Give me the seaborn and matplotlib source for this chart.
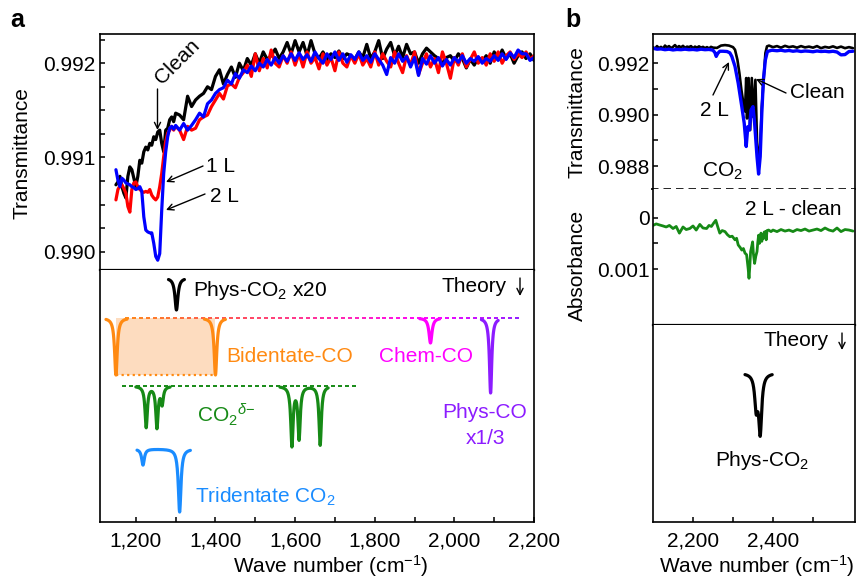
import numpy as np
import pandas as pd
import matplotlib
matplotlib.use("Agg")
import matplotlib.pyplot as plt
import seaborn as sns
from matplotlib.ticker import MultipleLocator, FixedLocator, FuncFormatter, NullLocator
from matplotlib.collections import LineCollection
from matplotlib.colors import LinearSegmentedColormap

# ------------------------------------------------------------------ data
# Panel a, experiment: wave number grid (5 cm-1 steps up to 1300, then 10 cm-1)
wn_a = np.r_[np.arange(1150, 1300, 5), np.arange(1300, 2201, 10)]

clean_a = [
    0.99071, 0.99074, 0.99080, 0.99069, 0.99062, 0.99057, 0.99080, 0.99090, 0.99087, 0.99078,
    0.99069, 0.99080, 0.99097, 0.99094, 0.99106, 0.99111, 0.99108, 0.99115, 0.99113, 0.99122,
    0.99119, 0.99127, 0.99129, 0.99115, 0.99106, 0.99129, 0.99131, 0.99140, 0.99143, 0.99138,
    0.99147,
    0.99145, 0.99140, 0.99165, 0.99154, 0.99161, 0.99165, 0.99168, 0.99175, 0.99172, 0.99186, 0.99193,
    0.99178, 0.99188, 0.99196, 0.99185, 0.99200, 0.99192, 0.99205, 0.99198, 0.99210,
    0.99200, 0.99212, 0.99204, 0.99208, 0.99215, 0.99205, 0.99212, 0.99222, 0.99210, 0.99224,
    0.99212, 0.99222, 0.99208, 0.99224, 0.99210, 0.99205, 0.99212, 0.99204, 0.99210, 0.99206,
    0.99213, 0.99205, 0.99210, 0.99208, 0.99204, 0.99212, 0.99206, 0.99220, 0.99205, 0.99212,
    0.99224, 0.99205, 0.99215, 0.99222, 0.99208, 0.99218, 0.99206, 0.99220, 0.99210, 0.99212,
    0.99200, 0.99210, 0.99216, 0.99212, 0.99208, 0.99205, 0.99200, 0.99206, 0.99208, 0.99202,
    0.99210, 0.99205, 0.99195, 0.99204, 0.99198, 0.99206, 0.99202, 0.99208, 0.99200, 0.99212,
    0.99204, 0.99214, 0.99205, 0.99210, 0.99200, 0.99208, 0.99212, 0.99205, 0.99210, 0.99203,
]
one_l_a = [
    0.99055, 0.99066, 0.99070, 0.99071, 0.99067, 0.99062, 0.99048, 0.99042, 0.99066, 0.99073,
    0.99074, 0.99069, 0.99066, 0.99064, 0.99063, 0.99064, 0.99063, 0.99066, 0.99060, 0.99057,
    0.99055, 0.99058, 0.99069, 0.99083, 0.99101, 0.99117, 0.99126, 0.99129, 0.99133, 0.99129,
    0.99133,
    0.99129, 0.99119, 0.99133, 0.99129, 0.99131, 0.99140, 0.99143, 0.99145, 0.99154, 0.99161, 0.99168,
    0.99162, 0.99176, 0.99178, 0.99174, 0.99185, 0.99190, 0.99198, 0.99186, 0.99210,
    0.99192, 0.99205, 0.99195, 0.99214, 0.99200, 0.99196, 0.99208, 0.99200, 0.99212, 0.99198,
    0.99210, 0.99196, 0.99212, 0.99200, 0.99206, 0.99194, 0.99210, 0.99198, 0.99206, 0.99192,
    0.99212, 0.99200, 0.99196, 0.99208, 0.99200, 0.99210, 0.99198, 0.99205, 0.99196, 0.99212,
    0.99198, 0.99210, 0.99202, 0.99196, 0.99212, 0.99200, 0.99190, 0.99208, 0.99198, 0.99212,
    0.99188, 0.99200, 0.99210, 0.99196, 0.99205, 0.99190, 0.99212, 0.99200, 0.99184, 0.99206,
    0.99198, 0.99210, 0.99196, 0.99204, 0.99212, 0.99200, 0.99206, 0.99198, 0.99210, 0.99202,
    0.99212, 0.99200, 0.99208, 0.99212, 0.99204, 0.99210, 0.99206, 0.99212, 0.99204, 0.99208,
]
two_l_a = [
    0.99087, 0.99076, 0.99069, 0.99078, 0.99076, 0.99073, 0.99072, 0.99071, 0.99069, 0.99068,
    0.99066, 0.99067, 0.99069, 0.99064, 0.99037, 0.99023, 0.99021, 0.99020, 0.99020, 0.99009,
    0.98995, 0.98991, 0.98998, 0.99044, 0.99083, 0.99106, 0.99122, 0.99131, 0.99133, 0.99130,
    0.99134,
    0.99129, 0.99136, 0.99129, 0.99134, 0.99140, 0.99147, 0.99143, 0.99157, 0.99161, 0.99168, 0.99172,
    0.99174, 0.99182, 0.99178, 0.99189, 0.99184, 0.99193, 0.99190, 0.99197, 0.99192,
    0.99200, 0.99196, 0.99204, 0.99198, 0.99206, 0.99200, 0.99208, 0.99202, 0.99210, 0.99203,
    0.99211, 0.99204, 0.99209, 0.99202, 0.99212, 0.99205, 0.99200, 0.99210, 0.99204, 0.99212,
    0.99203, 0.99210, 0.99201, 0.99209, 0.99204, 0.99212, 0.99203, 0.99208, 0.99201, 0.99210,
    0.99204, 0.99198, 0.99188, 0.99206, 0.99200, 0.99210, 0.99202, 0.99207, 0.99196, 0.99206,
    0.99187, 0.99205, 0.99199, 0.99208, 0.99200, 0.99206, 0.99197, 0.99204, 0.99198, 0.99206,
    0.99201, 0.99208, 0.99200, 0.99205, 0.99202, 0.99207, 0.99200, 0.99205, 0.99202, 0.99208,
    0.99203, 0.99210, 0.99204, 0.99211, 0.99206, 0.99214, 0.99210, 0.99210, 0.99203, 0.99206,
]

# Panel b, experiment
wn_b_clean = list(range(2100, 2251, 5)) + [
    2260, 2270, 2280, 2290, 2300, 2305, 2311, 2316, 2321, 2326, 2330, 2333, 2335, 2339,
    2343, 2347, 2351, 2356, 2360, 2364, 2368, 2372, 2376, 2381, 2385, 2390] + list(range(2400, 2601, 10))
clean_b = [
    0.99262, 0.99255, 0.99266, 0.99258, 0.99263, 0.99256, 0.99268, 0.99261, 0.99266, 0.99258,
    0.99263, 0.99270, 0.99260, 0.99266, 0.99261, 0.99267, 0.99259, 0.99264, 0.99262, 0.99266,
    0.99258, 0.99264, 0.99260, 0.99265, 0.99260, 0.99263, 0.99258, 0.99262, 0.99257, 0.99263,
    0.99260,
    0.99259, 0.99268, 0.99270, 0.99268, 0.99262, 0.99252, 0.99213, 0.99161, 0.99096, 0.99044,
    0.99012, 0.99142, 0.98985, 0.99142, 0.98940, 0.99142, 0.98990, 0.99135, 0.98900, 0.98800,
    0.98880, 0.99030, 0.99122, 0.99239, 0.99265, 0.99268,
    0.99262, 0.99266, 0.99260, 0.99267, 0.99262, 0.99265, 0.99260, 0.99266, 0.99261, 0.99264,
    0.99260, 0.99266, 0.99258, 0.99263, 0.99260, 0.99265, 0.99259, 0.99264, 0.99258, 0.99262,
    0.99258,
]
wn_b_2l = list(range(2100, 2251, 10)) + [
    2255, 2258, 2262, 2267, 2275, 2285, 2292, 2297, 2305, 2313, 2322, 2328, 2333, 2337,
    2341, 2345, 2350, 2354, 2360, 2364, 2368, 2372, 2376, 2381, 2386, 2397] + list(range(2410, 2601, 10))
two_l_b = [
    0.99258, 0.99254, 0.99255, 0.99252, 0.99254, 0.99251, 0.99253, 0.99252, 0.99254, 0.99252,
    0.99253, 0.99251, 0.99254, 0.99252, 0.99253, 0.99250,
    0.99240, 0.99226, 0.99238, 0.99246, 0.99246, 0.99245, 0.99240, 0.99226, 0.99187, 0.99122,
    0.99031, 0.98967, 0.98876, 0.98953, 0.98940, 0.99018, 0.99031, 0.98967, 0.98837, 0.98769,
    0.98837, 0.99005, 0.99135, 0.99213, 0.99245, 0.99250,
    0.99248, 0.99250, 0.99247, 0.99249, 0.99246, 0.99248, 0.99245, 0.99247, 0.99246, 0.99244,
    0.99247, 0.99245, 0.99246, 0.99244, 0.99246, 0.99243, 0.99232, 0.99233, 0.99245, 0.99246,
]
wn_b_diff = [
    2100, 2108, 2116, 2125, 2133, 2141, 2150, 2158, 2166, 2175, 2183, 2192, 2200, 2208, 2217,
    2225, 2234, 2240, 2246, 2252, 2257, 2262, 2267, 2273, 2280, 2286, 2292, 2298, 2305, 2309,
    2313, 2318, 2322, 2326, 2330, 2334, 2336, 2338, 2340, 2342, 2344, 2347, 2349, 2351, 2354,
    2357, 2360, 2362, 2364, 2366, 2368, 2370, 2372, 2374, 2376, 2378, 2381, 2383, 2385, 2389,
    2395, 2400, 2410, 2420, 2430, 2440, 2450, 2460, 2470, 2480, 2490, 2500, 2510, 2520, 2530,
    2540, 2550, 2560, 2570, 2580, 2590, 2600]
diff_b = [
    0.00015, 0.00012, 0.00014, 0.00016, 0.00018, 0.00015, 0.00021, 0.00017, 0.00030, 0.00018,
    0.00023, 0.00021, 0.00016, 0.00024, 0.00013, 0.00020, 0.00021, 0.00015, 0.00017, 0.00010,
    0.00005, 0.00018, 0.00030, 0.00025, 0.00027, 0.00033, 0.00037, 0.00036, 0.00043, 0.00040,
    0.00053, 0.00058, 0.00063, 0.00060, 0.00069, 0.00072, 0.00086, 0.00100, 0.00118, 0.00095,
    0.00066, 0.00055, 0.00047, 0.00070, 0.00089, 0.00075, 0.00066, 0.00048, 0.00034, 0.00050,
    0.00043, 0.00030, 0.00046, 0.00035, 0.00040, 0.00028, 0.00027, 0.00043, 0.00025, 0.00024,
    0.00027, 0.00024, 0.00027, 0.00023, 0.00026, 0.00024, 0.00027, 0.00023, 0.00025, 0.00022,
    0.00026, 0.00024, 0.00022, 0.00025, 0.00020, 0.00024, 0.00026, 0.00020, 0.00027, 0.00023,
    0.00024, 0.00026]

# Theory stick spectra: peak centres (cm-1) and relative depths (a.u.)
phys_co2_x20_peaks, phys_co2_x20_depth = [1302], [32]
bidentate_peaks, bidentate_depth = [1150, 1400], [57, 57]
chem_co_peaks, chem_co_depth = [1940], [25]
phys_co_peaks, phys_co_depth = [2091], [75]
co2d_low_peaks, co2d_low_depth = [1226, 1253, 1266], [41, 41, 17]
co2d_high_peaks, co2d_high_depth = [1592, 1610, 1663], [59, 52, 59]
tridentate_peaks, tridentate_depth = [1218, 1310], [16, 63]
phys_co2_b_peaks, phys_co2_b_depth = [2358, 2368], [32, 58]

# ------------------------------------------------------------------ style
sns.set_theme(style="ticks")
plt.rcParams.update({
    "font.family": ["Liberation Sans", "DejaVu Sans"],
    "font.size": 15,
    "mathtext.fontset": "custom",
    "mathtext.rm": "Liberation Sans",
    "mathtext.it": "Liberation Sans:italic",
    "mathtext.bf": "Liberation Sans:bold",
    "mathtext.sf": "Liberation Sans",
    "axes.linewidth": 1.2,
    "axes.edgecolor": "black",
    "xtick.color": "black",
    "ytick.color": "black",
    "text.color": "black",
})

W, H = 858, 580
fig = plt.figure(figsize=(W / 100, H / 100), dpi=100)


def box(x0, y0, x1, y1):
    return [x0 / W, 1 - y1 / H, (x1 - x0) / W, (y1 - y0) / H]


def fxy(px, py):
    return (px / W, 1 - py / H)


def T(px, py, s, **kw):
    kw.setdefault("ha", "center")
    kw.setdefault("va", "center")
    kw.setdefault("fontsize", 15)
    fig.text(px / W, 1 - py / H, s, **kw)


def arrow(tail, tip, lw=1.0):
    fig.add_artist(matplotlib.patches.FancyArrowPatch(
        fxy(*tail), fxy(*tip), transform=fig.transFigure, arrowstyle="->",
        mutation_scale=11, lw=lw, color="black", shrinkA=0, shrinkB=0))


axA1 = fig.add_axes(box(100, 34, 534, 270))
axA2 = fig.add_axes(box(100, 270, 534, 522))
axB1 = fig.add_axes(box(653, 34, 855, 189))
axB2 = fig.add_axes(box(653, 189, 855, 325))
axB3 = fig.add_axes(box(653, 325, 855, 522))

comma = FuncFormatter(lambda v, p: f"{v:,.0f}")


def style_y(ax, majors, minors, fmt, pad=3.5):
    ax.yaxis.set_major_locator(FixedLocator(majors))
    ax.yaxis.set_minor_locator(FixedLocator(minors) if not isinstance(minors, float) else MultipleLocator(minors))
    ax.yaxis.set_major_formatter(FuncFormatter(fmt))
    ax.tick_params(axis="y", which="both", direction="in", length=3.8, width=1.1,
                   labelsize=15, pad=pad, right=False)


def no_x(ax):
    ax.xaxis.set_major_locator(NullLocator())
    ax.xaxis.set_minor_locator(NullLocator())


# ------------------------------------------------------------------ panel a, experiment
xa = np.asarray(wn_a)
for vals, col in [(clean_a, "black"), (one_l_a, "#ff0000"), (two_l_a, "#0000ff")]:
    sns.lineplot(x=xa, y=np.asarray(vals), ax=axA1, color=col, lw=2.3,
                 estimator=None, errorbar=None)
axA1.set_xlim(1110, 2200)
axA1.set_ylim(0.989806, 0.99231)
no_x(axA1)
style_y(axA1, [0.990, 0.991, 0.992], 0.00025, lambda v, p: f"{v:.3f}", pad=3.5)
axA1.set_ylabel("")
axA1.spines["bottom"].set_linewidth(1.6)

# ------------------------------------------------------------------ theory helper


def theory(ax, x0, x1, base, peaks, depths, color, gamma=4.0, lw=2.3):
    x = np.arange(x0, x1 + 0.25, 0.5)
    y = np.full_like(x, float(base))
    for p, d in zip(peaks, depths):
        y = y - d / (1 + ((x - p) / gamma) ** 2)
    df = pd.DataFrame({"x": x, "y": y})
    sns.lineplot(data=df, x="x", y="y", ax=ax, color=color, lw=lw,
                 estimator=None, errorbar=None, sort=False)


ORANGE, MAGENTA, PURPLE = "#ff8a12", "#ff00ff", "#8c1cff"
GREEN, TBLUE = "#168a16", "#1a8cff"

# panel a theory ------------------------------------------------
axA2.fill_between([1150, 1400], 204 - 57, 204, color="#fddcbf", lw=0, zorder=0)
axA2.plot([1150, 1400], [147, 147], ls=(0, (1, 1.5)), color=ORANGE, lw=1.6)

cmap = LinearSegmentedColormap.from_list(
    "grad", [(0.0, ORANGE), (0.3, "#ff4a5a"), (0.77, MAGENTA), (1.0, PURPLE)])
d_start, d_end = 1172, 2171
starts = np.arange(d_start, d_end, 17.5)
segs = [[(s, 204), (min(s + 10, d_end), 204)] for s in starts]
cols = [cmap((s - 1150) / (d_end - 1150)) for s in starts]
axA2.add_collection(LineCollection(segs, colors=cols, linewidths=1.4))

g_starts = np.arange(1166, 1755, 17.5)
axA2.add_collection(LineCollection([[(s, 136), (min(s + 10, 1755), 136)] for s in g_starts],
                                   colors=GREEN, linewidths=1.4))

theory(axA2, 1282, 1322, 244, phys_co2_x20_peaks, phys_co2_x20_depth, "black", gamma=4.5)
theory(axA2, 1125, 1178, 204, bidentate_peaks[:1], bidentate_depth[:1], ORANGE)
theory(axA2, 1372, 1425, 204, bidentate_peaks[1:], bidentate_depth[1:], ORANGE)
theory(axA2, 1913, 1963, 204, chem_co_peaks, chem_co_depth, MAGENTA, gamma=4.5)
theory(axA2, 2068, 2110, 204, phys_co_peaks, phys_co_depth, PURPLE, gamma=3.5)
theory(axA2, 1200, 1286, 136, co2d_low_peaks, co2d_low_depth, GREEN, gamma=3.5)
theory(axA2, 1562, 1683, 136, co2d_high_peaks, co2d_high_depth, GREEN, gamma=3.5)
theory(axA2, 1203, 1337, 73, tridentate_peaks, tridentate_depth, TBLUE, gamma=4)

axA2.set_xlim(1110, 2200)
axA2.set_ylim(0, 252)
axA2.xaxis.set_major_locator(MultipleLocator(200))
axA2.xaxis.set_minor_locator(MultipleLocator(100))
axA2.xaxis.set_major_formatter(comma)
axA2.tick_params(axis="x", which="both", direction="in", length=3.8, width=1.1,
                 labelsize=15, pad=7, top=False)
axA2.yaxis.set_major_locator(NullLocator())
axA2.set_xlabel("")
axA2.set_ylabel("")
axA2.spines["top"].set_visible(False)

# ------------------------------------------------------------------ panel b
sns.lineplot(x=np.asarray(wn_b_clean), y=np.asarray(clean_b), ax=axB1, color="black",
             lw=1.9, estimator=None, errorbar=None)
sns.lineplot(x=np.asarray(wn_b_2l), y=np.asarray(two_l_b), ax=axB1, color="#0000ff",
             lw=2.4, estimator=None, errorbar=None)
axB1.set_xlim(2100, 2605)
axB1.set_ylim(0.98711, 0.99313)
no_x(axB1)
style_y(axB1, [0.988, 0.990, 0.992], [0.989, 0.991], lambda v, p: f"{v:.3f}", pad=2.5)
axB1.spines["bottom"].set_visible(False)
axB1.plot([-0.01, 1], [0, 0], transform=axB1.transAxes, ls=(0, (4.5, 3)), lw=1.2,
          color="black", clip_on=False)
axB1.set_ylabel("")

sns.lineplot(x=np.asarray(wn_b_diff), y=np.asarray(diff_b), ax=axB2, color=GREEN,
             lw=2.0, estimator=None, errorbar=None)
axB2.set_xlim(2100, 2605)
axB2.set_ylim(0.00209, -0.00056)
no_x(axB2)
style_y(axB2, [0.0, 0.001], [0.0005], lambda v, p: "0" if abs(v) < 1e-9 else f"{v:.3f}", pad=2.5)
axB2.spines["top"].set_visible(False)
axB2.spines["bottom"].set_linewidth(1.6)
axB2.set_ylabel("")

theory(axB3, 2330, 2398, 149, phys_co2_b_peaks, phys_co2_b_depth, "black", gamma=4.5)
axB3.set_xlim(2100, 2605)
axB3.set_ylim(0, 197)
axB3.xaxis.set_major_locator(FixedLocator([2200, 2400]))
axB3.xaxis.set_minor_locator(FixedLocator([2300, 2500]))
axB3.xaxis.set_major_formatter(comma)
axB3.tick_params(axis="x", which="both", direction="in", length=3.8, width=1.1,
                 labelsize=15, pad=7, top=False)
axB3.yaxis.set_major_locator(NullLocator())
axB3.spines["top"].set_visible(False)
axB3.set_xlabel("")
axB3.set_ylabel("")

# ------------------------------------------------------------------ text
T(17, 20, "a", fontsize=18, weight="bold")
T(573, 20, "b", fontsize=18, weight="bold")
T(22, 153, "Transmittance", rotation=90)
T(577, 112, "Transmittance", rotation=90)
T(577, 265, "Absorbance", rotation=90)
T(331, 566, "Wave number (cm$^{-1}$)")
T(757, 566, "Wave number (cm$^{-1}$)")

# panel a experiment annotations
T(177, 62, "Clean", rotation=45, rotation_mode="anchor")
arrow((157.5, 89), (157.5, 130))
T(221, 166, "1 L")
arrow((203, 166), (166, 182))
T(224, 196, "2 L")
arrow((205, 194), (166, 210))

# panel a theory labels
T(193, 291, "Phys-CO$_2$ x20", ha="left")
T(442, 286, "Theory", ha="left")
arrow((520, 278), (520, 296))
T(226, 357, "Bidentate-CO", ha="left", color=ORANGE)
T(379, 357, "Chem-CO", ha="left", color=MAGENTA)
T(197, 415, r"CO$_{2}{}^{\delta\mathrm{-}}$", ha="left", color=GREEN)
T(485, 413, "Phys-CO", color=PURPLE)
T(486, 438, "x1/3", color=PURPLE)
T(195, 497, "Tridentate CO$_2$", ha="left", color=TBLUE)

# panel b annotations
T(714, 111, "2 L")
arrow((713, 95), (729, 62))
T(817, 92, "Clean")
arrow((786, 93), (756, 79))
T(702, 171, "CO$_2$", ha="left")
T(745, 210, "2 L - clean", ha="left")
T(763, 340, "Theory", ha="left")
arrow((842, 333), (842, 350))
T(762, 461, "Phys-CO$_2$")

fig.savefig("out.png", dpi=100)
